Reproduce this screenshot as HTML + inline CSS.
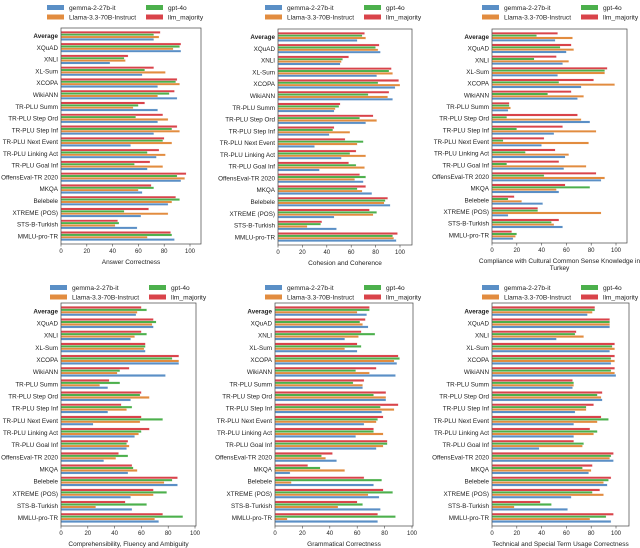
<!DOCTYPE html>
<html><head><meta charset="utf-8">
<style>
body{margin:0;background:#fff;}
svg{display:block;font-family:"Liberation Sans","DejaVu Sans",sans-serif;}
</style></head>
<body>
<svg id="fig" width="640" height="548" viewBox="0 0 640 548" xmlns="http://www.w3.org/2000/svg"></svg>
<script>
const categories=["Average","XQuAD","XNLI","XL-Sum","XCOPA","WikiANN","TR-PLU Summ","TR-PLU Step Ord","TR-PLU Step Inf","TR-PLU Next Event","TR-PLU Linking Act","TR-PLU Goal Inf","OffensEval-TR 2020","MKQA","Belebele","XTREME (POS)","STS-B-Turkish","MMLU-pro-TR"];
const seriesNames=["gemma-2-27b-it","Llama-3.3-70B-Instruct","gpt-4o","llm_majority"];
const tickValues=[0,20,40,60,80,100];
// panel 1: Answer Correctness  [gemma, llama, gpt, majority]
const p1Gemma=[72,93,38,63,75,90,75,75,72,54,74,67,93,63,83,62,59,88];
const p1Llama=[76,87,50,81,92,75,56,83,92,86,81,79,96,60,86,83,42,67];
const p1Gpt=[72,92,49,65,89,84,60,58,86,79,67,57,90,72,92,49,45,86];
const p1Maj=[77,93,52,72,90,88,65,79,90,80,76,69,97,70,89,68,44,85];
// panel 2: Cohesion and Coherence
const p2Gemma=[65,84,51,81,96,94,46,72,42,30,52,34,70,77,92,46,48,97];
const p2Llama=[72,82,52,94,100,90,47,81,59,65,72,71,63,69,87,78,24,95];
const p2Gpt=[69,80,53,91,82,74,50,67,45,70,59,64,72,65,88,81,35,94];
const p2Maj=[71,83,58,93,99,91,51,78,46,55,64,58,67,72,90,75,36,98];
// panel 3: Cultural Common Sense
const p3Gemma=[51,60,57,53,72,69,13,79,50,40,59,58,88,54,41,13,57,17];
const p3Llama=[65,66,62,91,99,74,15,72,84,78,62,76,91,52,24,88,50,19];
const p3Gpt=[36,55,34,91,54,45,14,12,20,9,27,12,42,79,13,37,48,20];
const p3Maj=[53,64,52,93,82,64,14,69,57,42,51,54,84,59,18,37,54,16];
// panel 4: Comprehensibility
const p4Gemma=[56,69,52,63,88,78,35,52,35,24,55,49,32,50,87,52,53,73];
const p4Llama=[57,68,55,62,88,42,29,66,49,59,58,51,41,57,77,69,26,70];
const p4Gpt=[64,71,64,63,83,44,44,59,53,76,60,49,50,54,83,79,64,91];
const p4Maj=[60,69,60,63,88,51,36,60,45,60,66,50,43,53,87,69,48,76];
// panel 5: Grammatical
const p5Gemma=[67,68,51,60,89,88,64,81,78,65,59,74,45,11,72,76,77,75];
const p5Llama=[60,64,61,51,87,69,64,81,87,74,79,79,37,51,12,68,46,9];
const p5Gpt=[69,62,73,63,91,59,57,72,77,75,72,82,34,33,78,86,64,88];
const p5Maj=[69,66,63,60,90,74,65,81,90,79,72,82,42,24,65,79,60,75];
// panel 6: Technical Term
const p6Gemma=[77,95,52,95,96,100,65,89,67,66,66,38,98,78,93,64,61,96];
const p6Llama=[81,95,74,99,99,99,66,88,76,85,82,73,95,80,90,90,18,79];
const p6Gpt=[83,95,67,97,96,96,66,85,76,94,85,74,96,73,94,81,48,92];
const p6Maj=[83,95,68,99,99,99,65,89,82,88,79,66,98,81,96,87,39,98];

const colors=["#5a8fc6","#e28c3f","#4cb04c","#d9434a"];
const svg=document.getElementById('fig');
const NS="http://www.w3.org/2000/svg";
function mk(tag,attrs,parent){const e=document.createElementNS(NS,tag);for(const k in attrs)e.setAttribute(k,attrs[k]);(parent||svg).appendChild(e);return e;}

const panels=[
 {l:61,r:201,x100:190,t:28,b:244,lx:47,ly:5,title:["Answer Correctness"],data:[p1Gemma,p1Llama,p1Gpt,p1Maj],name:"answer-correctness"},
 {l:278,r:412,x100:400,t:29,b:245,lx:265,ly:5,title:["Cohesion and Coherence"],data:[p2Gemma,p2Llama,p2Gpt,p2Maj],name:"cohesion-coherence"},
 {l:492,r:627,x100:616,t:29,b:243,lx:482,ly:5,title:["Compliance with Cultural Common Sense Knowledge in","Turkey"],data:[p3Gemma,p3Llama,p3Gpt,p3Maj],name:"cultural-compliance"},
 {l:61,r:196,x100:195,t:303,b:526,lx:50,ly:285,title:["Comprehensibility, Fluency and Ambiguity"],data:[p4Gemma,p4Llama,p4Gpt,p4Maj],name:"comprehensibility"},
 {l:275,r:413,x100:412,t:303,b:526,lx:265,ly:285,title:["Grammatical Correctness"],data:[p5Gemma,p5Llama,p5Gpt,p5Maj],name:"grammatical-correctness"},
 {l:492,r:629,x100:616,t:303,b:526,lx:482,ly:285,title:["Technical and Special Term Usage Correctness"],data:[p6Gemma,p6Llama,p6Gpt,p6Maj],name:"technical-term-usage"}
];

panels.forEach((p,pi)=>{
  const g=mk('g',{});
  
  
  const xs=v=>p.l+(p.x100-p.l)*v/100;
  const n=categories.length;
  const band=(p.b-p.t-4)/n;
  const bh=band*0.8/4;
  // bars
  categories.forEach((c,ci)=>{
    const cy=p.t+2+band*(ci+0.5);
    // order top->bottom: majority, gpt, llama, gemma
    for(let s=3;s>=0;s--){
      const k=3-s;
      const y=cy-band*0.4+k*bh;
      const v=p.data[s][ci];
      const r=mk('rect',{x:p.l,y:y.toFixed(2),width:Math.max(0,xs(v)-p.l).toFixed(2),height:bh.toFixed(2),fill:colors[s],stroke:"#fff","stroke-width":0.3},g);
      
      
    }
    const t=mk('text',{x:p.l-3,y:(cy+2.2).toFixed(2),'text-anchor':'end','font-size':6.3,fill:'#222','font-weight':ci===0?'bold':'normal'},g);
    t.textContent=c;
    
    
  });
  // axes box
  const box=mk('rect',{x:p.l,y:p.t,width:p.r-p.l,height:p.b-p.t,fill:'none',stroke:'#444','stroke-width':0.7},g);
  
  
  tickValues.forEach(v=>{
    const x=xs(v);
    mk('line',{x1:x,y1:p.b,x2:x,y2:p.b+2.5,stroke:'#444','stroke-width':0.6},g);
    const t=mk('text',{x:x,y:p.b+9,'text-anchor':'middle','font-size':6,fill:'#222'},g);
    t.textContent=v;
    
    
  });
  p.title.forEach((line,li)=>{
    const t=mk('text',{x:(p.l+p.r)/2,y:p.b+20+li*7,'text-anchor':'middle','font-size':6.5,fill:'#222'},g);
    t.textContent=line;
    
    
  });
  // legend
  const order=[[0,0,0],[1,0,1],[2,1,0],[3,1,1]];
  order.forEach(([s,col,row])=>{
    const lx=p.lx+col*99, ly=p.ly+row*9.5;
    const lg=mk('g',{},g);
    
    
    mk('rect',{x:lx,y:ly,width:17,height:5,fill:colors[s]},lg);
    const t=mk('text',{x:lx+22,y:ly+5,'font-size':6.6,fill:'#222'},lg);
    t.textContent=seriesNames[s];
  });
});
</script>
</body></html>
